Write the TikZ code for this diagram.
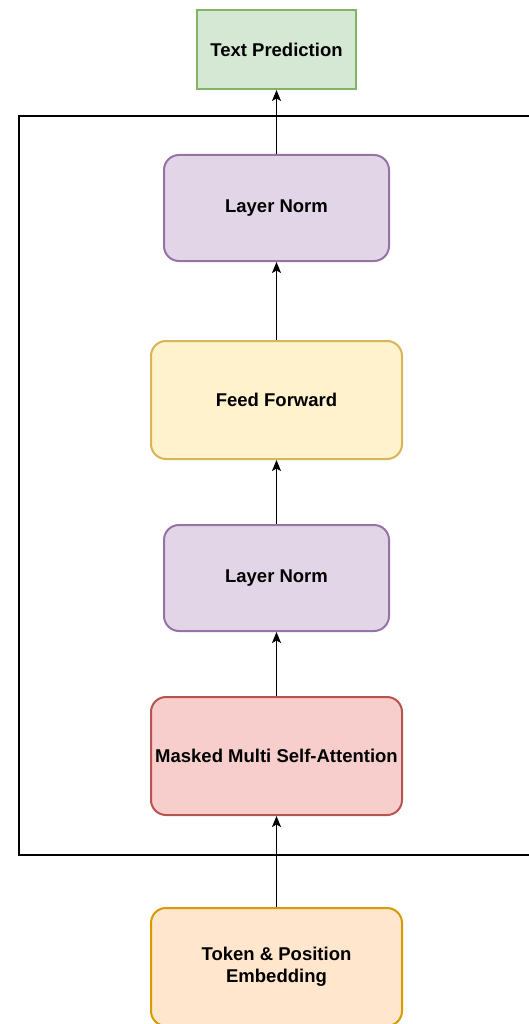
\documentclass[tikz,border=0pt]{standalone}
\usepackage{fontspec}
\setmainfont{Liberation Sans}
\usetikzlibrary{arrows.meta}
\definecolor{greenfill}{HTML}{D5E8D4}
\definecolor{greenline}{HTML}{82B366}
\definecolor{purplefill}{HTML}{E1D5E7}
\definecolor{purpleline}{HTML}{9673A6}
\definecolor{yellowfill}{HTML}{FFF2CC}
\definecolor{yellowline}{HTML}{D6B656}
\definecolor{redfill}{HTML}{F8CECC}
\definecolor{redline}{HTML}{B85450}
\definecolor{orangefill}{HTML}{FFE6CC}
\definecolor{orangeline}{HTML}{D79B00}
\tikzset{
  block/.style={draw, line width=2pt, rounded corners=15pt, align=center,
    inner sep=0pt, font=\fontsize{18.5}{22}\selectfont\bfseries},
  flow/.style={-{Stealth[length=11pt,width=9pt,inset=2.5pt]}, line width=1.3pt},
}
\begin{document}
\begin{tikzpicture}[x=1pt,y=-1pt]
\useasboundingbox (0,0) rectangle (529,1024);
\clip (0,0) rectangle (529,1024);
\fill[white] (0,0) rectangle (529,1024);
% decoder block frame (extends past the right edge)
\draw[line width=1.2pt] (19,116) rectangle (560,855);
% stages
\node[block, rounded corners=0pt, fill=greenfill, draw=greenline,
  minimum width=159pt, minimum height=79pt] (pred) at (276.5,49.5) {Text Prediction};
\node[block, fill=purplefill, draw=purpleline,
  minimum width=225pt, minimum height=106pt] (ln1) at (276.5,208) {Layer Norm};
\node[block, fill=yellowfill, draw=yellowline,
  minimum width=251pt, minimum height=118pt] (ff) at (276.5,400) {Feed Forward};
\node[block, fill=purplefill, draw=purpleline,
  minimum width=225pt, minimum height=106pt] (ln2) at (276.5,578) {Layer Norm};
\node[block, fill=redfill, draw=redline,
  minimum width=251pt, minimum height=118pt] (mask) at (276.5,756) {Masked Multi Self-Attention};
\node[block, fill=orangefill, draw=orangeline,
  minimum width=251pt, minimum height=118pt] (emb) at (276.5,967) {Token \& Position\\Embedding};
% connectors
\draw[flow] (emb.north) -- (mask.south);
\draw[flow] (mask.north) -- (ln2.south);
\draw[flow] (ln2.north) -- (ff.south);
\draw[flow] (ff.north) -- (ln1.south);
\draw[flow] (ln1.north) -- (pred.south);
\end{tikzpicture}
\end{document}
